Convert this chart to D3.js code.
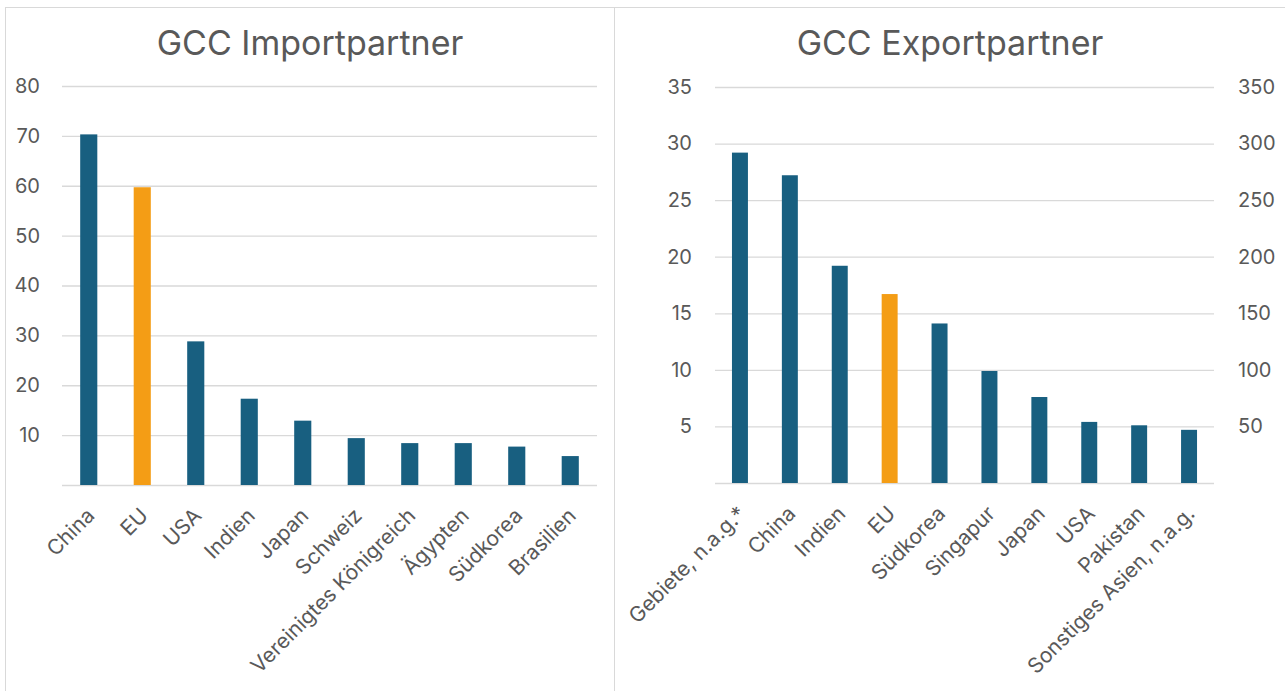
<!DOCTYPE html>
<html><head><meta charset="utf-8">
<script src="https://cdn.jsdelivr.net/npm/d3@7"></script>
<style>
html,body{margin:0;padding:0;background:#fff;}
svg{display:block;font-family:Inter,"Open Sans",sans-serif;}
</style></head>
<body>
<svg id="c" width="1285" height="691"></svg>
<script>
// ---- data ----
const importCategories = ["China","EU","USA","Indien","Japan","Schweiz","Vereinigtes Königreich","Ägypten","Südkorea","Brasilien"];
const importValues = [70.3, 59.7, 28.8, 17.3, 12.9, 9.4, 8.4, 8.4, 7.7, 5.8];
const importTicks = [10,20,30,40,50,60,70,80];

const exportCategories = ["Gebiete, n.a.g.*","China","Indien","EU","Südkorea","Singapur","Japan","USA","Pakistan","Sonstiges Asien, n.a.g."];
const exportValues = [29.2, 27.2, 19.2, 16.7, 14.1, 9.9, 7.6, 5.4, 5.1, 4.7];
const exportTicks = [5,10,15,20,25,30,35];
const exportRightTicks = [50,100,150,200,250,300,350];

const titles = ["GCC Importpartner","GCC Exportpartner"];
const highlight = "EU";

// ---- styles ----
const BLUE = "#185f80", ORANGE = "#f49d15", GRID = "#d9d9d9", TEXT = "#595959";
const FS = "20px", FS_CAT = "21px";
const svg = d3.select("#c");

// frames
svg.append("rect").attr("x",5.5).attr("y",7.5).attr("width",609).attr("height",700)
  .attr("fill","none").attr("stroke",GRID);
svg.append("rect").attr("x",614.5).attr("y",7.5).attr("width",680).attr("height",700)
  .attr("fill","none").attr("stroke",GRID);

function chart(cfg){
  const g = svg.append("g");
  const x = d3.scaleBand().domain(cfg.cats).range([cfg.x0,cfg.x1]).paddingInner(0.68).paddingOuter(0.34);
  const y = d3.scaleLinear().domain([0,cfg.max]).range([cfg.y0,cfg.yTop]);

  // gridlines
  const gridAxis = d3.axisLeft(y).tickValues([0].concat(cfg.ticks)).tickSize(-(cfg.x1-cfg.x0)).tickFormat("");
  const gg = g.append("g").attr("transform",`translate(${cfg.x0},0)`).call(gridAxis);
  gg.select(".domain").remove();
  gg.selectAll("line").attr("stroke",GRID).attr("stroke-width",1.3);

  // left labels
  const la = g.append("g").attr("transform",`translate(${cfg.labelX},0)`)
    .call(d3.axisLeft(y).tickValues(cfg.ticks).tickSize(0).tickPadding(0));
  la.select(".domain").remove();
  la.selectAll("text").attr("fill",TEXT).style("font-size",FS).style("font-family","Inter,sans-serif");

  if(cfg.right){
    const y2 = d3.scaleLinear().domain([0,cfg.rightMax]).range([cfg.y0,cfg.yTop]);
    const ra = g.append("g").attr("transform",`translate(${cfg.rightX},0)`)
      .call(d3.axisRight(y2).tickValues(cfg.right).tickSize(0).tickPadding(0));
    ra.select(".domain").remove();
    ra.selectAll("text").attr("fill",TEXT).style("font-size",FS).style("font-family","Inter,sans-serif");
  }

  // bars
  g.selectAll("rect.bar").data(cfg.cats).join("rect").attr("class","bar")
    .attr("x",d=>x(d)).attr("width",x.bandwidth())
    .attr("y",(d,i)=>y(cfg.vals[i])).attr("height",(d,i)=>cfg.y0-y(cfg.vals[i]))
    .attr("fill",d=>d===highlight?ORANGE:BLUE);

  // category labels
  g.selectAll("text.cat").data(cfg.cats).join("text").attr("class","cat")
    .attr("transform",d=>`translate(${x(d)+x.bandwidth()/2+7},${cfg.y0+32}) rotate(-45)`)
    .attr("text-anchor","end").attr("fill",TEXT).style("font-size",FS_CAT)
    .text(d=>d);

  // title
  g.append("text").attr("x",cfg.titleX).attr("y",55).attr("text-anchor","middle")
    .attr("fill",TEXT).style("font-size","34px").text(cfg.title);
}

chart({cats:importCategories, vals:importValues, ticks:importTicks, max:80,
  x0:62, x1:597, y0:485, yTop:86, labelX:40, title:titles[0], titleX:310});
chart({cats:exportCategories, vals:exportValues, ticks:exportTicks, max:35,
  x0:715, x1:1214, y0:483, yTop:87, labelX:692, right:exportRightTicks, rightMax:350, rightX:1238,
  title:titles[1], titleX:950});
</script>
</body></html>
